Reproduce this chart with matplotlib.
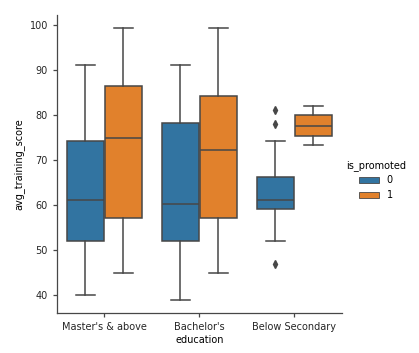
import matplotlib
matplotlib.use('Agg')
import matplotlib.pyplot as plt
from matplotlib.patches import Patch

# data
education = ["Master's & above", "Bachelor's", "Below Secondary"]
hue_levels = ['0', '1']
hue_colors = {'0': '#3274a1', '1': '#e1812c'}

whislo = {'0': [40, 39, 52], '1': [45, 45, 73.3]}
q1 = {'0': [52, 52, 59], '1': [57, 57, 75.3]}
med = {'0': [61.2, 60.2, 61.2], '1': [74.8, 72.1, 77.5]}
q3 = {'0': [74.1, 78.1, 66.2], '1': [86.5, 84.1, 79.9]}
whishi = {'0': [91, 91, 74.1], '1': [99.2, 99.2, 82]}
fliers = {'0': [[], [], [81, 78, 47]], '1': [[], [], []]}

plt.rcParams['font.family'] = ['DejaVu Sans']
plt.rcParams['font.size'] = 7

fig = plt.figure(figsize=(4.19, 3.53), dpi=100)
ax = fig.add_axes([0.136, 0.113, 0.68, 0.845])

line_col = '#474747'
offsets = {'0': -0.2, '1': 0.2}
for h in hue_levels:
    stats = []
    for i in range(len(education)):
        stats.append(dict(med=med[h][i], q1=q1[h][i], q3=q3[h][i],
                          whislo=whislo[h][i], whishi=whishi[h][i],
                          fliers=fliers[h][i]))
    pos = [i + offsets[h] for i in range(len(education))]
    ax.bxp(stats, positions=pos, widths=0.4 * 0.98, patch_artist=True,
           manage_ticks=False,
           boxprops=dict(facecolor=hue_colors[h], edgecolor=line_col, linewidth=1.1),
           medianprops=dict(color=line_col, linewidth=1.1),
           whiskerprops=dict(color=line_col, linewidth=1.1),
           capprops=dict(color=line_col, linewidth=1.1),
           flierprops=dict(marker='d', markerfacecolor=line_col, markeredgecolor=line_col,
                           markersize=4, linestyle='none'))

ax.set_xlim(-0.5, 2.5)
ax.set_ylim(36, 102.2)
ax.set_xticks(range(len(education)))
ax.set_xticklabels(education)
ax.set_yticks([40, 50, 60, 70, 80, 90, 100])
ax.set_xlabel('education', labelpad=2)
ax.set_ylabel('avg_training_score', labelpad=4)
for s in ['top', 'right']:
    ax.spines[s].set_visible(False)
for s in ['left', 'bottom']:
    ax.spines[s].set_color(line_col)
    ax.spines[s].set_linewidth(0.9)
ax.tick_params(colors=line_col, labelcolor='#262626', length=3, width=0.9)

handles = [Patch(facecolor=hue_colors[h], edgecolor=line_col, linewidth=0.6) for h in hue_levels]
fig.legend(handles, hue_levels, title='is_promoted', frameon=False,
           loc='center left', bbox_to_anchor=(0.805, 0.49),
           fontsize=7, title_fontsize=7, handlelength=2.0, handleheight=0.6,
           labelspacing=0.5)

fig.savefig('out.png', dpi=100)
